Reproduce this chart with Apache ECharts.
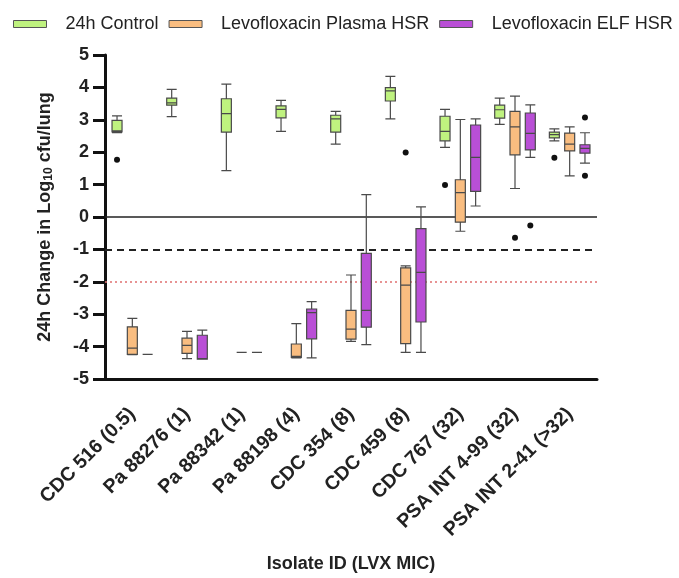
<!DOCTYPE html>
<html>
<head>
<meta charset="utf-8">
<script src="https://cdn.jsdelivr.net/npm/echarts@6/dist/echarts.min.js"></script>
<style>
html,body{margin:0;padding:0;background:#fff;}
#chart{width:679px;height:578px;}
</style>
</head>
<body>
<div id="chart"></div>
<script>
const categories = ['CDC 516 (0.5)', 'Pa 88276 (1)', 'Pa 88342 (1)', 'Pa 88198 (4)', 'CDC 354 (8)', 'CDC 459 (8)', 'CDC 767 (32)', 'PSA INT 4-99 (32)', 'PSA INT 2-41 (>32)'];
const seriesNames = ['24h Control', 'Levofloxacin Plasma HSR', 'Levofloxacin ELF HSR'];

// [min, Q1, median, Q3, max]
const control = [
  [2.60, 2.63, 2.66, 2.98, 3.12],
  [3.10, 3.45, 3.52, 3.67, 3.94],
  [1.43, 2.62, 3.19, 3.65, 4.10],
  [2.64, 3.06, 3.32, 3.43, 3.60],
  [2.25, 2.62, 3.03, 3.14, 3.26],
  [3.03, 3.58, 3.89, 3.99, 4.34],
  [2.15, 2.35, 2.64, 3.11, 3.32],
  [2.86, 3.05, 3.31, 3.45, 3.67],
  [2.35, 2.44, 2.54, 2.62, 2.72]
];
const plasma = [
  [-4.25, -4.24, -4.05, -3.39, -3.13],
  [-4.37, -4.21, -3.96, -3.74, -3.53],
  [-4.18, -4.18, -4.18, -4.18, -4.18],
  [-4.35, -4.33, -4.30, -3.92, -3.29],
  [-3.84, -3.77, -3.46, -2.88, -1.79],
  [-4.18, -3.91, -2.10, -1.57, -1.51],
  [-0.44, -0.16, 0.75, 1.15, 3.01],
  [0.88, 1.92, 2.78, 3.26, 3.73],
  [1.27, 2.04, 2.25, 2.59, 2.78]
];
const elf = [
  [-4.24, -4.24, -4.24, -4.24, -4.24],
  [-4.39, -4.39, -4.37, -3.65, -3.49],
  [-4.18, -4.18, -4.18, -4.18, -4.18],
  [-4.35, -3.76, -2.95, -2.84, -2.61],
  [-3.94, -3.40, -2.88, -1.12, 0.69],
  [-4.18, -3.24, -1.71, -0.36, 0.31],
  [0.34, 0.79, 1.84, 2.84, 3.03],
  [1.84, 2.07, 2.58, 3.21, 3.46],
  [1.66, 1.97, 2.12, 2.23, 2.60]
];
// outliers: [category index, value, series index]
const outliers = [
  [0, 1.77, 0],
  [6, 0.99, 0],
  [8, 1.83, 0],
  [5, 1.99, 1],
  [7, -0.64, 1],
  [7, -0.26, 2],
  [8, 3.07, 2],
  [8, 1.27, 2]
];
const refLines = [0, -1, -2];

const colors = ['#bff27f', '#f9bd80', '#b94fd6'];
const FONT = 'Liberation Sans, Arial, sans-serif';

const chart = echarts.init(document.getElementById('chart'));

function boxSeries(name, data, color, withMarks) {
  const s = {
    name: name,
    type: 'boxplot',
    data: data,
    boxWidth: [10, 10],
    itemStyle: { color: color, borderColor: '#4a4a4a', borderWidth: 1.2 },
    emphasis: { disabled: true },
    z: 3
  };
  if (withMarks) {
    s.markLine = {
      silent: true,
      symbol: 'none',
      label: { show: false },
      data: [
        { yAxis: refLines[0], lineStyle: { color: '#222', width: 1.6, type: 'solid' } },
        { yAxis: refLines[1], lineStyle: { color: '#222', width: 1.8, type: [7, 5] } },
        { yAxis: refLines[2], lineStyle: { color: '#e07070', width: 1.5, type: [2, 3] } }
      ],
      z: 1
    };
  }
  return s;
}

chart.setOption({
  animation: false,
  backgroundColor: '#fff',
  legend: {
    data: seriesNames.map(function (n, i) {
      return { name: n, itemStyle: { color: colors[i], borderColor: '#555', borderWidth: 1 } };
    }),
    left: 8,
    top: 10,
    width: 671,
    icon: 'rect',
    itemWidth: 33,
    itemHeight: 7,
    itemGap: 10,
    textStyle: { fontFamily: FONT, fontSize: 18, color: '#222', padding: [0, 0, 0, 14] }
  },
  grid: { left: 105, right: 82, top: 55, bottom: 197, containLabel: false },
  xAxis: {
    type: 'category',
    data: categories,
    name: 'Isolate ID (LVX MIC)',
    nameLocation: 'middle',
    nameGap: 176,
    nameTextStyle: { fontFamily: FONT, fontSize: 18, fontWeight: 'bold', color: '#222' },
    axisLine: { onZero: false, lineStyle: { color: '#111', width: 3 } },
    axisTick: { alignWithLabel: true, length: 10, lineStyle: { color: '#111', width: 3 } },
    axisLabel: { rotate: 45, margin: 32, fontFamily: FONT, fontSize: 19.5, fontWeight: 'bold', color: '#222', interval: 0 },
    splitLine: { show: false }
  },
  yAxis: {
    type: 'value',
    min: -5,
    max: 5,
    interval: 1,
    name: '24h Change in Log{sub|10} cfu/lung',
    nameLocation: 'middle',
    nameGap: 50,
    nameTextStyle: {
      fontFamily: FONT, fontSize: 18, fontWeight: 'bold', color: '#222',
      rich: { sub: { fontFamily: FONT, fontSize: 12, fontWeight: 'bold', color: '#222', verticalAlign: 'bottom', padding: [8, 0, 0, 0] } }
    },
    axisLine: { show: true, lineStyle: { color: '#111', width: 3 } },
    axisTick: { show: true, length: 12, lineStyle: { color: '#111', width: 3 } },
    axisLabel: { margin: 16, fontFamily: FONT, fontSize: 18, fontWeight: 'bold', color: '#222' },
    splitLine: { show: false }
  },
  series: [
    boxSeries(seriesNames[0], control, colors[0], true),
    boxSeries(seriesNames[1], plasma, colors[1], false),
    boxSeries(seriesNames[2], elf, colors[2], false),
    {
      type: 'custom',
      data: outliers,
      encode: { x: 0, y: 1 },
      z: 4,
      silent: true,
      renderItem: function (params, api) {
        const p = api.coord([api.value(0), api.value(1)]);
        const bw = api.size([1, 0])[0];
        const avail = bw * 0.8 - 2;
        const gap = avail / 3 * 0.3;
        const w = (avail - 2 * gap) / 3;
        const off = (api.value(2) - 1) * (w + gap);
        return { type: 'circle', shape: { cx: p[0] + off, cy: p[1], r: 3 }, style: { fill: '#111' } };
      }
    }
  ]
});
</script>
</body>
</html>
